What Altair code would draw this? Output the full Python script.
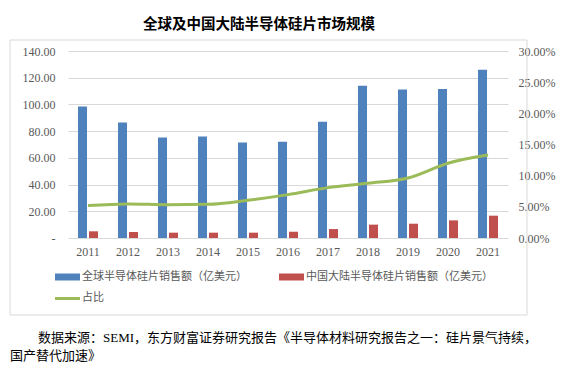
import altair as alt
import pandas as pd

years = ["2011", "2012", "2013", "2014", "2015", "2016", "2017", "2018", "2019", "2020", "2021"]
global_sales = [98.5, 86.5, 75.2, 76.0, 71.5, 72.0, 87.0, 114.0, 111.2, 111.5, 126.0]
china_sales = [5.0, 4.5, 4.0, 4.0, 4.0, 4.7, 6.7, 10.0, 10.7, 13.2, 16.7]
share = [0.052, 0.0546, 0.0535, 0.054, 0.0605, 0.0696, 0.0808, 0.0878, 0.0963, 0.120, 0.133]

series_names = ["全球半导体硅片销售额（亿美元）", "中国大陆半导体硅片销售额（亿美元）", "占比"]
series_colors = ["#4F81BD", "#C0504D", "#9BBB59"]
title_text = "全球及中国大陆半导体硅片市场规模"
caption_lines = ["数据来源：SEMI，东方财富证券研究报告《半导体材料研究报告之一：硅片景气持续，", "国产替代加速》"]
left_ticks = [0, 20, 40, 60, 80, 100, 120, 140]
right_ticks = [0, 0.05, 0.10, 0.15, 0.20, 0.25, 0.30]

long_df = pd.DataFrame({
    "year": years * 2,
    "series": [series_names[0]] * len(years) + [series_names[1]] * len(years),
    "value": global_sales + china_sales,
})
line_df = pd.DataFrame({"year": years, "share": share})

OX, OY = 68, 51  # plot origin in page pixels
W, H = 440, 187
SERIF = "Liberation Serif, Noto Sans CJK SC"
LABEL_GRAY = "#595959"

xenc = alt.X("year:O", title=None, sort=years,
             scale=alt.Scale(paddingInner=0, paddingOuter=0),
             axis=alt.Axis(labelAngle=0, ticks=False, domain=False, labelPadding=8,
                           labelFont=SERIF, labelFontSize=12, labelColor=LABEL_GRAY, grid=False))

bars = alt.Chart(long_df).mark_bar().encode(
    x=xenc,
    xOffset=alt.XOffset("series:N", sort=series_names[:2],
                        scale=alt.Scale(domain=series_names[:2], paddingInner=0.1818, paddingOuter=0.909)),
    y=alt.Y("value:Q", title=None,
            scale=alt.Scale(domain=[0, 140], nice=False),
            axis=alt.Axis(values=left_ticks, ticks=False, domain=False, labelPadding=13,
                          labelExpr="datum.value == 0 ? '-\u00a0\u00a0' : format(datum.value, '.2f')",
                          labelFont=SERIF, labelFontSize=12, labelColor=LABEL_GRAY,
                          grid=True, gridColor="#d9d9d9", gridWidth=1)),
    fill=alt.Fill("series:N", scale=alt.Scale(domain=series_names[:2], range=series_colors[:2]), legend=None),
)

line = alt.Chart(line_df).mark_line(interpolate="monotone", strokeWidth=3, color=series_colors[2]).encode(
    x=alt.X("year:O", sort=years),
    y=alt.Y("share:Q", title=None,
            scale=alt.Scale(domain=[0, 0.30], nice=False),
            axis=alt.Axis(orient="right", values=right_ticks, format=".2%", ticks=False, domain=False,
                          labelPadding=10, labelFont=SERIF, labelFontSize=12, labelColor=LABEL_GRAY,
                          grid=False)),
)

one = pd.DataFrame({"a": [0]})

def px(v):
    return alt.value(v - OX)

def py(v):
    return alt.value(v - OY)

frame = alt.Chart(one).mark_rect(fillOpacity=0, stroke="#d9d9d9", strokeWidth=1).encode(
    x=px(10), x2=px(527), y=py(40), y2=py(315))

title = alt.Chart(pd.DataFrame({"t": [title_text]})).mark_text(
    font="Noto Sans CJK SC", fontWeight="bold", fontSize=14.5, color="#000000", align="center", baseline="middle"
).encode(x=px(259), y=py(25), text="t:N")

leg_blue = alt.Chart(one).mark_rect(color=series_colors[0]).encode(x=px(55), x2=px(80), y=py(273.5), y2=py(280.5))
leg_red = alt.Chart(one).mark_rect(color=series_colors[1]).encode(x=px(279), x2=px(304), y=py(273.5), y2=py(280.5))
leg_green = alt.Chart(one).mark_rule(color=series_colors[2], strokeWidth=3).encode(x=px(55), x2=px(80), y=py(298.5))

def leg_text(label, x, y):
    return alt.Chart(pd.DataFrame({"t": [label]})).mark_text(
        font=SERIF, fontSize=11, color=LABEL_GRAY, align="left", baseline="middle"
    ).encode(x=px(x), y=py(y), text="t:N")

t1 = leg_text(series_names[0], 82, 277)
t2 = leg_text(series_names[1], 306, 277)
t3 = leg_text(series_names[2], 82, 298)

cap1 = alt.Chart(pd.DataFrame({"t": [caption_lines[0]]})).mark_text(
    font=SERIF, fontSize=13, color="#000000", align="left", baseline="middle"
).encode(x=px(38), y=py(338), text="t:N")
cap2 = alt.Chart(pd.DataFrame({"t": [caption_lines[1]]})).mark_text(
    font=SERIF, fontSize=13, color="#000000", align="left", baseline="middle"
).encode(x=px(10), y=py(356), text="t:N")

main = alt.layer(bars, line).resolve_scale(y="independent")

chart = alt.layer(
    frame, main, title, leg_blue, leg_red, leg_green, t1, t2, t3, cap1, cap2
).resolve_scale(y="independent").properties(
    width=W, height=H,
    autosize=alt.AutoSizeParams(type="none"),
    padding={"left": OX - 8, "top": OY - 8, "right": 60, "bottom": 126},
).configure_view(strokeWidth=0)

chart.save("out.html", embed_options={"renderer": "svg", "actions": False})
